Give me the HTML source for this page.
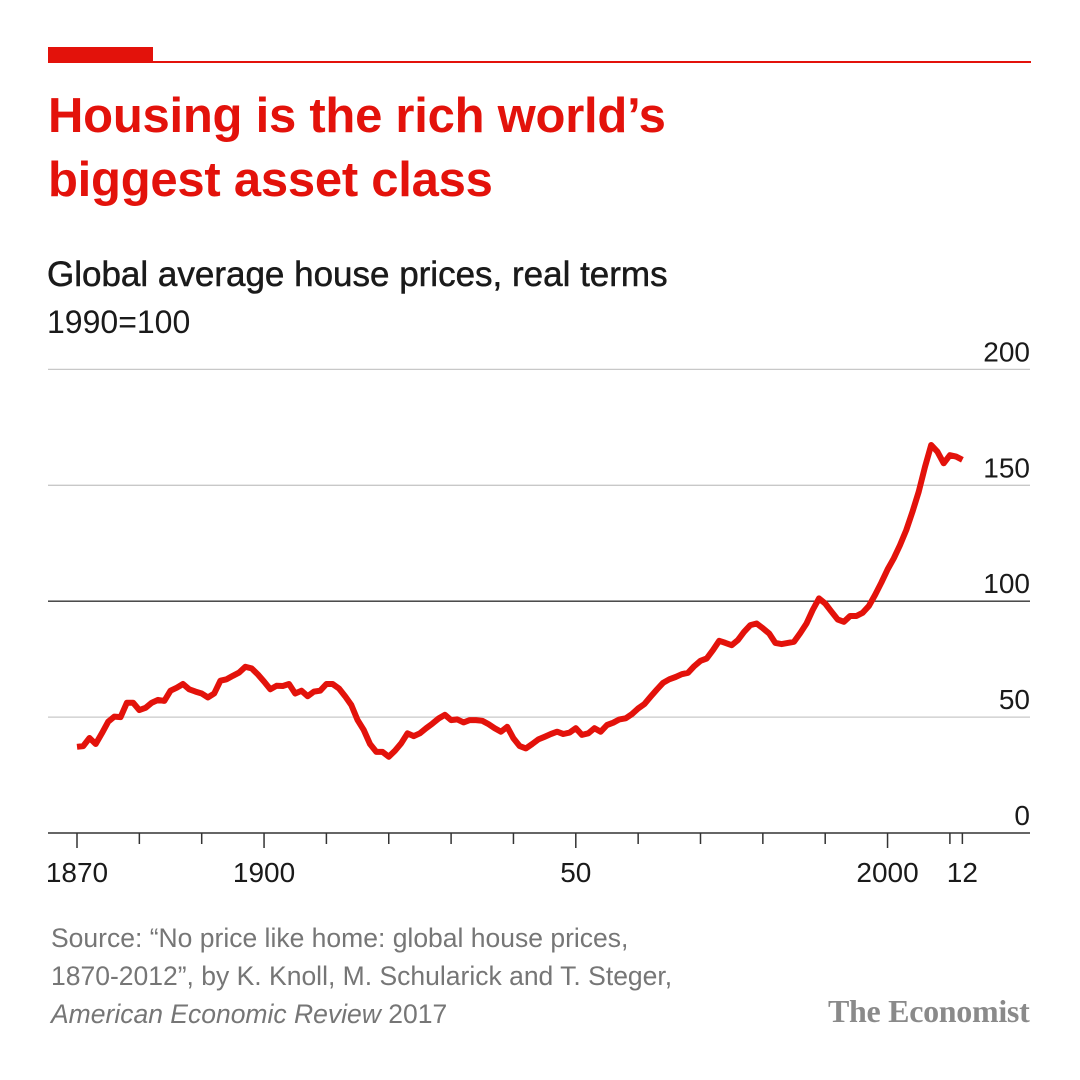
<!DOCTYPE html>
<html><head><meta charset="utf-8">
<style>
body{margin:0;background:#fff;}
#wrap{position:relative;width:1080px;height:1080px;overflow:hidden;background:#fff;font-family:"Liberation Sans",sans-serif;}
.t{position:absolute;white-space:nowrap;}
</style></head>
<body>
<div id="wrap">
<div style="position:absolute;left:48px;top:47px;width:105px;height:15px;background:#e3120b"></div>
<div style="position:absolute;left:48px;top:61px;width:983px;height:2px;background:#e3120b"></div>
<div class="t" style="left:48px;top:84px;font-size:49px;font-weight:bold;color:#e3120b;line-height:64px;letter-spacing:-0.25px">Housing is the rich world’s<br>biggest asset class</div>
<div class="t" style="left:47px;top:255px;font-size:35px;color:#1a1a1a;letter-spacing:0px;-webkit-text-stroke:0.5px #1a1a1a">Global average house prices, real terms</div>
<div class="t" style="left:47px;top:304px;font-size:32px;color:#1a1a1a">1990=100</div>
<svg id="chart" width="1080" height="1080" style="position:absolute;left:0;top:0"></svg>
<div class="t" style="left:51px;top:919px;font-size:26.5px;color:#767676;line-height:38px">Source: “No price like home: global house prices,<br>1870-2012”, by K. Knoll, M. Schularick and T. Steger,<br><i>American Economic Review</i> 2017</div>
<div class="t" style="left:828px;top:993px;font-size:32px;color:#8a8a8a;font-family:'Liberation Serif',serif;font-weight:bold;letter-spacing:-0.3px">The Economist</div>
</div>
<script>
const years = [];
for (let y = 1870; y <= 2012; y++) years.push(y);
const values = [37.2,37.5,41,38.4,43,48,50.2,50,56.2,56.2,
53,54,56.2,57.4,57,61.4,62.7,64.3,62,61,
60.2,58.5,60.2,65.7,66.3,67.8,69.2,71.7,71,68.4,
65.3,62,63.5,63.4,64.3,60.2,61.4,59,61,61.4,
64.3,64.3,62.4,59,55.2,48.7,44.4,38.4,35,35,
32.9,35.5,38.7,43,41.8,43,45.2,47.2,49.4,51,
48.7,49,47.7,48.7,48.7,48.4,47,45.2,43.7,45.8,
40.8,37.5,36.5,38.4,40.4,41.5,42.7,43.7,42.7,43.3,
45.2,42.3,43,45.2,43.7,46.6,47.6,49,49.5,51.3,
53.7,55.6,58.8,61.9,64.8,66.3,67.3,68.5,69.1,72,
74.3,75.3,78.9,82.9,82,81,83.2,86.8,89.7,90.4,
88.3,86.1,82,81.5,82,82.5,86.3,90.4,96.2,101.2,
99,95.5,92.1,91.1,93.6,93.6,95,97.9,102.7,108,
113.7,118.5,124.2,130.7,138.6,147.2,158,167.4,164.5,159.5,
163,162.4,161];
const yTicks = [0,50,100,150,200];
const xTicks = [1870,1880,1890,1900,1910,1920,1930,1940,1950,1960,1970,1980,1990,2000,2010,2012];
const xLabels = [[1870,"1870"],[1900,"1900"],[1950,"50"],[2000,"2000"],[2012,"12"]];
const majorTicks = [1870,1900,1950,2000];

const NS="http://www.w3.org/2000/svg";
const svg=document.getElementById('chart');
const X=y=>77+(y-1870)*6.235;
const Y=v=>833-v*2.318;
function mk(tag,attrs){const e=document.createElementNS(NS,tag);for(const k in attrs)e.setAttribute(k,attrs[k]);svg.appendChild(e);return e;}
yTicks.forEach(v=>{
  if(v===0)return;
  const l=mk('line',{x1:48,x2:1030,y1:Y(v),y2:Y(v),stroke:v===100?'#333':'#c8c8c8','stroke-width':1.3});
  
  
});
yTicks.forEach(v=>{
  const t=mk('text',{x:1030,y:Y(v)-8,'text-anchor':'end','font-size':28,fill:'#1a1a1a','font-family':'Liberation Sans, sans-serif'});
  t.textContent=v;
  
  
});
const ax=mk('line',{x1:48,x2:1030,y1:833,y2:833,stroke:'#333','stroke-width':1.5});


xTicks.forEach(yr=>{
  const tk=mk('line',{x1:X(yr),x2:X(yr),y1:833,y2:majorTicks.includes(yr)?848:844,stroke:'#333','stroke-width':1.5});
  
  
});
xLabels.forEach(([yr,lab])=>{
  const t=mk('text',{x:X(yr),y:882,'text-anchor':'middle','font-size':28,fill:'#1a1a1a','font-family':'Liberation Sans, sans-serif'});
  t.textContent=lab;
  
  
});
const d=values.map((v,i)=>(i?'L':'M')+X(years[i]).toFixed(1)+','+Y(v).toFixed(1)).join('');
const p=mk('path',{d:d,fill:'none',stroke:'#e3120b','stroke-width':6,'stroke-linejoin':'round'});


</script>
</body></html>
